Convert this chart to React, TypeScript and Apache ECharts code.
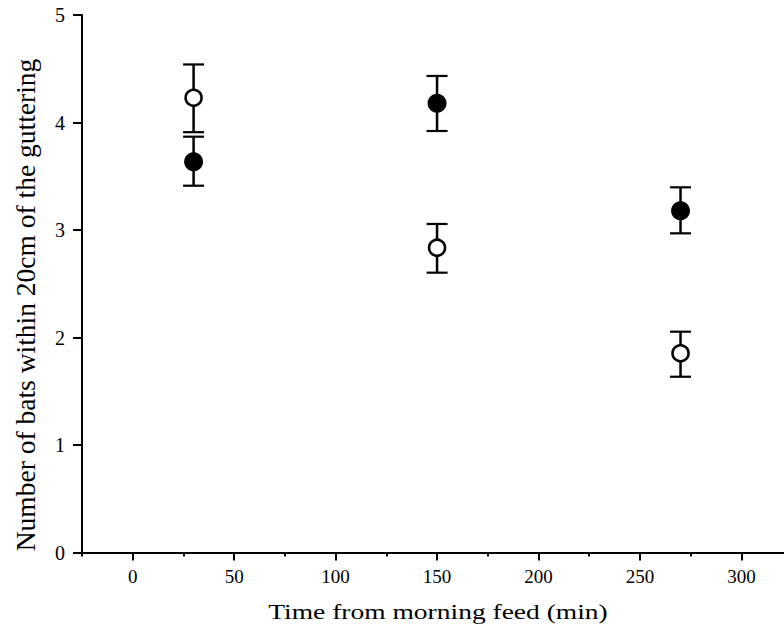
import { useEffect, useRef } from 'react';
import * as echarts from 'echarts';

const times = [30, 150, 270];
const openMeans = [4.23, 2.835, 1.853];
const openLow = [3.91, 2.603, 1.635];
const openHigh = [4.54, 3.056, 2.054];
const filledMeans = [3.635, 4.179, 3.18];
const filledLow = [3.412, 3.921, 2.969];
const filledHigh = [3.868, 4.433, 3.397];
const xMajorTicks = [0, 50, 100, 150, 200, 250, 300];
const xMinorTicks = [-25, 25, 75, 125, 175, 225, 275];
const yTicks = [0, 1, 2, 3, 4, 5];
const xTitle = 'Time from morning feed (min)';
const yTitle = 'Number of bats within 20cm of the guttering';

const FONT = 'Times New Roman, Liberation Serif, Times';

export default function App() {
  const ref = useRef<HTMLDivElement>(null);
  useEffect(() => {
    if (!ref.current) return;
    const chart = echarts.init(ref.current, null, { renderer: 'svg' });
    const errData = [
      ...times.map((t, i) => [t, openLow[i], openHigh[i]]),
      ...times.map((t, i) => [t, filledLow[i], filledHigh[i]]),
    ];
    const renderErr = (params: any, api: any) => {
      const x = api.value(0);
      const lo = api.coord([x, api.value(1)]);
      const hi = api.coord([x, api.value(2)]);
      const half = 10.5;
      const st = { stroke: '#000', lineWidth: 2.2 };
      return {
        type: 'group',
        children: [
          { type: 'line', shape: { x1: lo[0], y1: lo[1], x2: hi[0], y2: hi[1] }, style: { stroke: '#000', lineWidth: 2.5 } },
          { type: 'line', shape: { x1: lo[0] - half, y1: lo[1], x2: lo[0] + half, y2: lo[1] }, style: st },
          { type: 'line', shape: { x1: hi[0] - half, y1: hi[1], x2: hi[0] + half, y2: hi[1] }, style: st },
        ],
      };
    };
    chart.setOption({
      animation: false,
      backgroundColor: '#fff',
      grid: { left: 82, right: 0, top: 15, bottom: 80.5, containLabel: false },
      xAxis: [
        {
          type: 'value',
          min: -25,
          max: 321,
          interval: 25,
          position: 'bottom',
          splitLine: { show: false },
          axisLine: { show: true, onZero: false, lineStyle: { color: '#000', width: 2 } },
          axisTick: { show: true, customValues: xMajorTicks, length: 8, inside: false, lineStyle: { color: '#000', width: 2 } },
          axisLabel: { customValues: xMajorTicks, color: '#000', fontFamily: FONT, fontSize: 19, margin: 14 },
        },
        {
          type: 'value',
          min: -25,
          max: 321,
          interval: 25,
          position: 'bottom',
          splitLine: { show: false },
          axisLine: { show: false },
          axisTick: { show: true, customValues: xMinorTicks, length: 4, lineStyle: { color: '#000', width: 2 } },
          axisLabel: { show: false },
        },
      ],
      yAxis: {
        type: 'value',
        min: 0,
        max: 5,
        interval: 1,
        splitLine: { show: false },
        axisLine: { show: true, onZero: false, lineStyle: { color: '#000', width: 2 } },
        axisTick: { show: true, customValues: yTicks, length: 9, lineStyle: { color: '#000', width: 2 } },
        axisLabel: { customValues: yTicks, color: '#000', fontFamily: FONT, fontSize: 20, margin: 17 },
      },
      graphic: [
        {
          type: 'text',
          x: 438,
          y: 611,
          scaleX: 1.25,
          style: { text: xTitle, fontFamily: FONT, fontSize: 22, fill: '#000', align: 'center', verticalAlign: 'middle' },
        },
        {
          type: 'text',
          x: 25,
          y: 305,
          rotation: Math.PI / 2,
          style: { text: yTitle, fontFamily: FONT, fontSize: 27.5, fill: '#000', align: 'center', verticalAlign: 'middle' },
        },
      ],
      series: [
        {
          type: 'custom',
          xAxisIndex: 0,
          renderItem: renderErr,
          data: errData,
          z: 1,
          silent: true,
        },
        {
          name: 'open',
          type: 'scatter',
          xAxisIndex: 0,
          symbol: 'circle',
          symbolSize: 16,
          itemStyle: { color: '#fff', borderColor: '#000', borderWidth: 2.6, opacity: 1 },
          data: times.map((t, i) => [t, openMeans[i]]),
          z: 3,
        },
        {
          name: 'filled',
          type: 'scatter',
          xAxisIndex: 0,
          symbol: 'circle',
          symbolSize: 19,
          itemStyle: { color: '#000', borderColor: '#000', borderWidth: 0, opacity: 1 },
          data: times.map((t, i) => [t, filledMeans[i]]),
          z: 3,
        },
      ],
    });
    return () => chart.dispose();
  }, []);
  return <div ref={ref} style={{ position: 'fixed', left: 0, top: 0, width: 784, height: 633 }} />;
}
